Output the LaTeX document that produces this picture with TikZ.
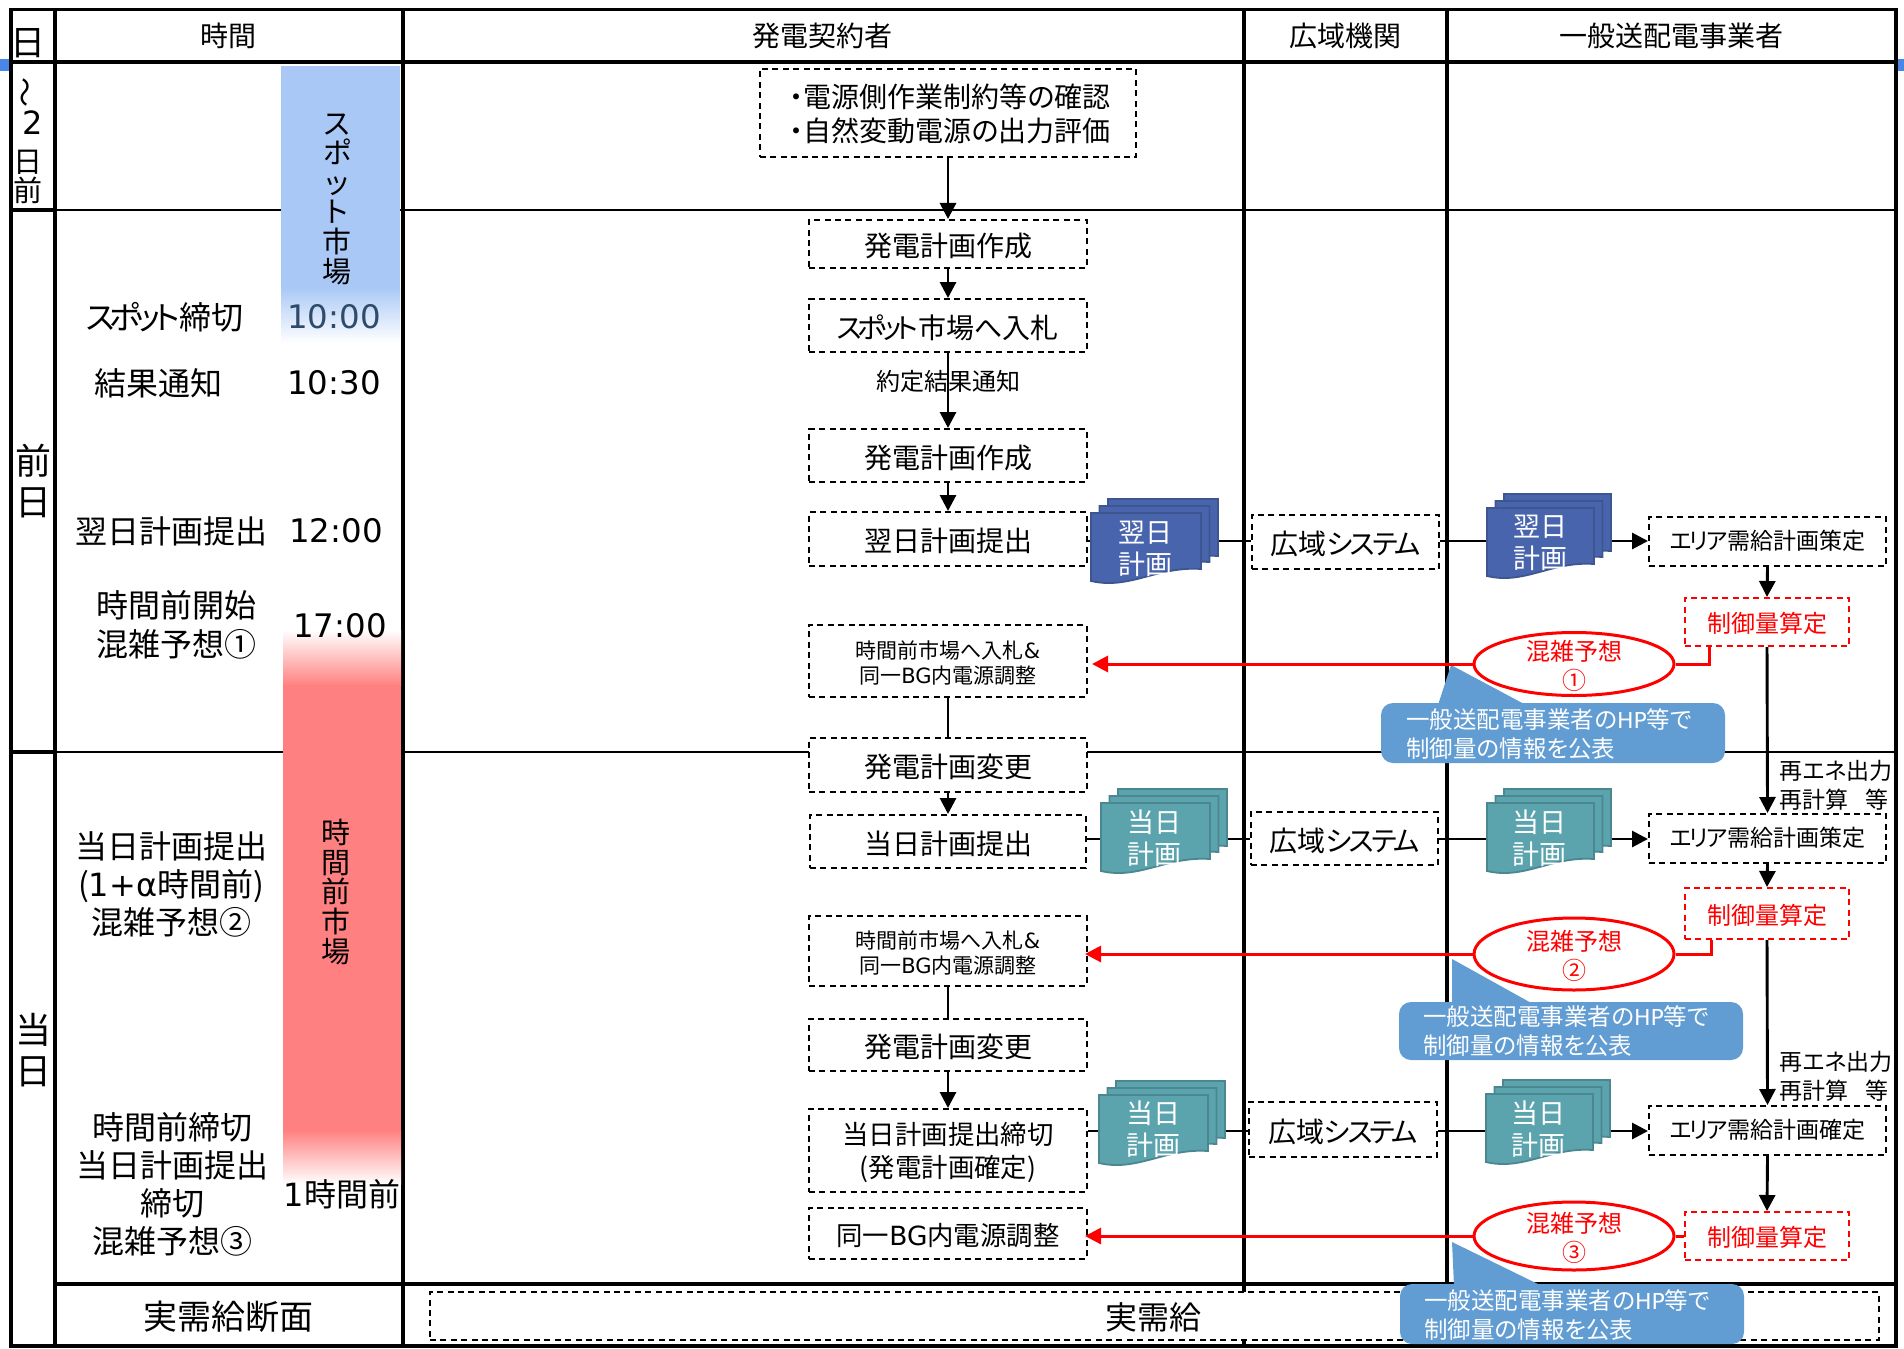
\documentclass[tikz,border=0pt]{standalone}
\usepackage{fontspec}
\setmainfont{Noto Sans CJK JP}[RawFeature=+palt]
\newfontfamily\vd{DejaVu Sans}
\usetikzlibrary{arrows.meta,shapes.geometric,calc}
\definecolor{docblue}{HTML}{4864AC}
\definecolor{docblueb}{HTML}{3D5690}
\definecolor{docteal}{HTML}{5BA3AD}
\definecolor{doctealb}{HTML}{4A8791}
\definecolor{callblue}{HTML}{619CD2}
\definecolor{spotblue}{HTML}{A9C8F6}
\definecolor{barred}{HTML}{FF8080}
\definecolor{redline}{HTML}{FF0000}
\definecolor{tickblue}{HTML}{4A86E8}
\definecolor{timeblue}{HTML}{2F4A6A}
\newcommand{\fs}[2]{\fontsize{#1pt}{#2pt}\selectfont}
\newcommand{\kn}{\addfontfeature{LetterSpace=-10}}
\newcommand{\knn}{\addfontfeature{LetterSpace=-17}}
\newcommand{\dn}{\rule{0pt}{1em}}
\newcommand{\upp}{\rule[-3.4pt]{0pt}{0pt}}
\tikzset{
  thickline/.style={line width=1.9pt,black},
  midline/.style={line width=1.4pt,black},
  conn/.style={line width=1.45pt,black},
  connarrow/.style={conn,-{Triangle[length=8pt,width=8pt]}},
  redconn/.style={line width=1.5pt,redline},
  redarrow/.style={redconn,-{Triangle[length=8pt,width=8pt]}},
  dbox/.style={draw=black,fill=white,line width=1pt,dash pattern=on 3pt off 2.2pt,inner sep=0pt},
  rbox/.style={dbox,draw=redline,text=redline},
  lbl/.style={inner sep=0pt,align=center,font=\fs{16}{15.7}},
  clock/.style={inner sep=0pt,align=center,font=\vd\fs{16.2}{16.2}},
  head/.style={inner sep=0pt,align=center,font=\fs{14}{14}},
  txt14/.style={inner sep=0pt,align=center,font=\fs{14}{14}},
  txt13/.style={inner sep=0pt,align=center,font=\fs{13.2}{16.5}},
  txt10/.style={inner sep=0pt,align=center,font=\fs{10.5}{12.5}},
  txt12/.style={inner sep=0pt,align=center,font=\fs{12}{12}},
  txt11/.style={inner sep=0pt,align=center,font=\fs{11.5}{12}},
  vert/.style={inner sep=0pt,align=center,font=\fs{14.5}{14.8}},
  callout/.style={fill=callblue},
  calltext/.style={inner sep=0pt,anchor=west,align=left,text=white,font=\fs{11.75}{14.5}},
  doctext/.style={inner sep=0pt,align=center,text=white,font=\fs{13.5}{16}},
  redtext/.style={inner sep=0pt,align=center,text=redline,font=\fs{12}{14.6}},
  redell/.style={draw=redline,fill=white,line width=1.5pt,ellipse,inner sep=0pt},
  renote/.style={inner sep=0pt,align=left,font=\fs{11.5}{14.5}},
}
% box with corner coordinates: style, name, x1,x2,y1,y2, font style, text
\newcommand{\bx}[8]{%
  \pgfmathsetmacro{\cxx}{(#3+#4)/2}\pgfmathsetmacro{\cyy}{(#5+#6)/2}%
  \pgfmathsetmacro{\ww}{(#4-#3)*0.5}\pgfmathsetmacro{\hh}{(#6-#5)*0.5}%
  \node[#1,#7,minimum width=\ww pt,minimum height=\hh pt] (#2) at (\cxx,\cyy) {\dn #8};}
% one sheet: x,y top left, width, right-bottom height
\newcommand{\sheet}[6]{%
  \filldraw[fill=#5,draw=#6,line width=0.9pt] (#1,#2) -- ++(#3,0) -- ++(0,#4)
    .. controls +(-{0.4*#3},-3) and +({0.35*#3},9) .. ++(-#3,12) -- cycle;}
% stack: name, x front, y front top, fill, border, text center x, y center, width, text
\newcommand{\docstack}[9]{%
  \sheet{#2+17}{#3-14}{#8}{57}{#4}{#5}
  \sheet{#2+8.5}{#3-7}{#8}{56}{#4}{#5}
  \sheet{#2}{#3}{#8}{56}{#4}{#5}
  \node[doctext] (#1) at (#6,#7) {#9};}
\begin{document}
\begin{tikzpicture}[x=0.5pt,y=-0.5pt]
\useasboundingbox (0,0) rectangle (1904,1348);
\fill[white] (0,0) rectangle (1904,1348);
% edge ticks
\fill[tickblue] (0,59) rectangle (10,71);
\fill[tickblue] (1897,59) rectangle (1904,71);
% table lines
\coordinate (TL) at (11,9.5); \coordinate (TR) at (1896,9.5);
\coordinate (BL) at (11,1346); \coordinate (BR) at (1896,1346);
\draw[midline] (55,210) -- (1896,210);
\draw[midline] (55,752) -- (1896,752);
\draw[midline,line width=1.6pt] (55,1284) -- (1896,1284);
\draw[thickline] (1244,10) -- (1244,1345);
\draw[thickline] (1447,10) -- (1447,1345);
\draw[thickline] (55,10) -- (55,1345);
\draw[thickline] (403,10) -- (403,1345);
\draw[thickline] (11,62) -- (1896,62);
\draw[thickline] (11,210) -- (55,210);
\draw[thickline] (11,752) -- (55,752);
\draw[thickline] (TL) -- (TR) -- (BR) -- (BL) -- cycle;
% gradient bars
\fill[spotblue] (281,66) rectangle (400,288);
\fill[top color=spotblue,bottom color=white] (281,287) rectangle (400,343);
\fill[top color=white,bottom color=barred] (283,630) rectangle (401,686);
\fill[barred] (283,685) rectangle (401,1131);
\fill[top color=barred,bottom color=white] (283,1130) rectangle (401,1184);
% headers
\node[inner sep=0pt,font=\fs{17.5}{17.5}] (hday) at (28,43) {日};
\node[head] (htime) at (228,36) {時間};
\node[head] (hgen) at (822,36) {発電契約者};
\node[head] (hocc) at (1345,36) {広域機関};
\node[head] (htso) at (1671,36) {一般送配電事業者};
% day column
\node[inner sep=0pt,rotate=90,font=\fs{15}{15}] (dwave) at (29,93) {～};
\node[inner sep=0pt,font=\vd\fs{16}{16}] (d2) at (33,123) {2};
\node[inner sep=0pt,font=\fs{14.5}{14.5}] (dhi) at (28,162) {日};
\node[inner sep=0pt,font=\fs{14.5}{14.5}] (dmae) at (28,190) {前};
\node[inner sep=0pt,align=center,font=\fs{18}{20.5}] (dprev) at (33,481) {前\\日};
\node[inner sep=0pt,align=center,font=\fs{18}{20.5}] (dcur) at (33,1050) {当\\日};
% time column
\node[vert] (vspot) at (337,199) {ス\\ポ\\ッ\\ト\\市\\場};
\node[vert] (vintra) at (336,892) {時\\間\\前\\市\\場};
\node[lbl] (t1) at (165,317) {{\knn スポット}締切};
\node[clock,text=timeblue] (c1) at (334,317) {10:00};
\node[lbl] (t2) at (158,383) {結果通知};
\node[clock] (c2) at (334,383) {10:30};
\node[lbl] (t3) at (171,531) {翌日計画提出};
\node[clock] (c3) at (336,531) {12:00};
\node[lbl,font=\fs{16}{19.5}] (t4) at (176,625) {時間前開始\\混雑予想①};
\node[clock] (c4) at (340,626) {17:00};
\node[lbl,font=\fs{16}{19}] (t5) at (171,884) {当日計画提出\\({\vd 1+α}時間前)\\混雑予想②};
\node[lbl,font=\fs{16}{19}] (t6) at (172,1184) {時間前締切\\当日計画提出\\締切\\混雑予想③};
\node[lbl] (c6) at (342,1194) {{\vd 1}時間前};
\node[lbl,font=\fs{17}{17}] (tbot) at (228,1317) {実需給断面};
% generator column
\bx{dbox}{b0}{760}{1136}{69}{157}{txt14}{}
\node[inner sep=0pt,align=left,font=\fs{14}{17}] (b0t) at (950,114) {・電源側作業制約等の確認\\・自然変動電源の出力評価};
\bx{dbox}{b1}{809}{1087}{220}{268}{txt14}{発電計画作成}
\bx{dbox}{b2}{809}{1087}{299}{352}{txt14}{{\knn スポット}市場{\knn へ}入札}
\bx{dbox}{b3}{809}{1087}{429}{482}{txt14}{発電計画作成}
\bx{dbox}{b4}{809}{1087}{512}{566}{txt14}{翌日計画提出}
\bx{dbox}{b5}{809}{1087}{625}{697}{txt10}{時間前市場へ入札{\vd\&}\\同一{\vd BG}内電源調整}
\bx{dbox}{b6}{809}{1087}{738}{792}{txt14}{発電計画変更}
\bx{dbox}{b7}{810}{1086}{815}{868}{txt14}{当日計画提出}
\bx{dbox}{b8}{809}{1087}{916}{986}{txt10}{時間前市場へ入札{\vd\&}\\同一{\vd BG}内電源調整}
\bx{dbox}{b9}{809}{1087}{1019}{1071}{txt14}{発電計画変更}
\bx{dbox}{b10}{809}{1087}{1109}{1192}{txt13}{当日計画提出締切\\(発電計画確定)}
\bx{dbox}{b11}{809}{1087}{1208}{1259}{txt13}{同一{\vd BG}内電源調整}
\draw[connarrow] (b0.south) -- (b1.north);
\draw[connarrow] (b1.south) -- (b2.north);
\draw[connarrow] (b2.south) -- (b3.north);
\draw[connarrow] (b3.south) -- (b4.north);
\draw[conn] (b5.south) -- (b6.north);
\draw[connarrow] (b6.south) -- (b7.north);
\draw[conn] (b8.south) -- (b9.north);
\draw[connarrow] (b9.south) -- (b10.north);
\node[inner sep=0pt,font=\fs{12}{12}] (lres) at (948,381) {約定結果通知};
% occto and TSO boxes
\bx{dbox}{k1}{1252}{1439}{515}{569}{txt14}{広域{\kn システム}}
\bx{dbox}{k2}{1251}{1438}{812}{865}{txt14}{広域{\kn システム}}
\bx{dbox}{k3}{1249}{1437}{1102}{1157}{txt14}{広域{\kn システム}}
\bx{dbox}{a1}{1649}{1886}{517}{566}{txt11}{\upp{\kn エリア}需給計画策定}
\bx{dbox}{a2}{1649}{1886}{814}{863}{txt11}{\upp{\kn エリア}需給計画策定}
\bx{dbox}{a3}{1649}{1886}{1106}{1155}{txt11}{\upp{\kn エリア}需給計画確定}
\bx{rbox}{r1}{1685}{1849}{598}{646}{txt12}{制御量算定}
\bx{rbox}{r2}{1685}{1849}{888}{939}{txt12}{制御量算定}
\bx{rbox}{r3}{1685}{1849}{1212}{1260}{txt12}{制御量算定}
\coordinate (y1) at (0,541); \coordinate (y2) at (0,839); \coordinate (y3) at (0,1131);
\draw[conn] (b4.east |- y1) -- (k1.west |- y1);
\draw[connarrow] (k1.east |- y1) -- (a1.west |- y1);
\draw[conn] (b7.east |- y2) -- (k2.west |- y2);
\draw[connarrow] (k2.east |- y2) -- (a2.west |- y2);
\draw[conn] (b10.east |- y3) -- (k3.west |- y3);
\draw[connarrow] (k3.east |- y3) -- (a3.west |- y3);
\draw[connarrow] (a1.south) -- (r1.north);
\draw[connarrow] (a2.south) -- (r2.north);
\draw[connarrow] (a3.south) -- (r3.north);
\draw[connarrow] (r1.south) -- (a2.north);
\draw[connarrow] (r2.south) -- (a3.north);
\node[renote] (ren1) at (1836,785) {再エネ出力\\再計算\hspace{8.5pt}等};
\node[renote] (ren2) at (1836,1076) {再エネ出力\\再計算\hspace{8.5pt}等};
% document stacks
\docstack{d1}{1091}{513}{docblue}{docblueb}{1145}{549}{110}{翌日\\計画}
\docstack{d2s}{1487}{508}{docblue}{docblueb}{1540}{543}{107}{翌日\\計画}
\docstack{d3}{1101}{803}{docteal}{doctealb}{1154}{838}{109}{当日\\計画}
\docstack{d4}{1487}{803}{docteal}{doctealb}{1539}{838}{107}{当日\\計画}
\docstack{d5}{1099}{1095}{docteal}{doctealb}{1153}{1129}{109}{当日\\計画}
\docstack{d6}{1486}{1094}{docteal}{doctealb}{1538}{1129}{107}{当日\\計画}
% actual demand box
\bx{dbox}{real}{430}{1879}{1292}{1340}{lbl}{\hspace*{0pt}}
\node[lbl] (realt) at (1153,1317) {実需給};
% callouts
\fill[callout] (1451,665) -- (1438,705) -- (1526,705) -- cycle;
\fill[callout,rounded corners=6pt] (1381,703) rectangle (1725,763);
\node[calltext] (cl1) at (1406,734) {一般送配電事業者の{\vd\fontsize{11pt}{14pt}\selectfont HP}等で\\制御量の情報を公表};
\fill[callout] (1452,959) -- (1452,1004) -- (1533,1004) -- cycle;
\fill[callout,rounded corners=6pt] (1399,1002) rectangle (1743,1060);
\node[calltext] (cl2) at (1423,1031) {一般送配電事業者の{\vd\fontsize{11pt}{14pt}\selectfont HP}等で\\制御量の情報を公表};
\fill[callout] (1452,1242) -- (1454,1286) -- (1542,1286) -- cycle;
\fill[callout,rounded corners=6pt] (1400,1284) rectangle (1744,1344);
\node[calltext] (cl3) at (1424,1315) {一般送配電事業者の{\vd\fontsize{11pt}{14pt}\selectfont HP}等で\\制御量の情報を公表};
% ellipses
\node[redell,minimum width=100pt,minimum height=31.5pt] (e1) at (1574,664) {};
\node[redell,minimum width=100pt,minimum height=36pt] (e2) at (1574,954) {};
\node[redell,minimum width=100pt,minimum height=34pt] (e3) at (1574,1236) {};
\node[redtext] (et1) at (1574,666) {混雑予想\\①};
\node[redtext] (et2) at (1574,956) {混雑予想\\②};
\node[redtext] (et3) at (1574,1238) {混雑予想\\③};
% red connectors
\coordinate (j1) at (1709,664); \coordinate (j2) at (1711,954);
\draw[redconn] (e1.east) -- (j1) -- (j1 |- r1.south);
\draw[redconn] (e2.east) -- (j2) -- (j2 |- r2.south);
\draw[redconn] (e3.east) -- (r3.west |- e3.east);
\draw[redarrow,shorten >=2pt] (e1.west) -- (b5.east |- e1.west);
\draw[redarrow,shorten >=-1.5pt] (e2.west) -- (b8.east |- e2.west);
\draw[redarrow,shorten >=-1.5pt] (e3.west) -- (b11.east |- e3.west);
\end{tikzpicture}
\end{document}
